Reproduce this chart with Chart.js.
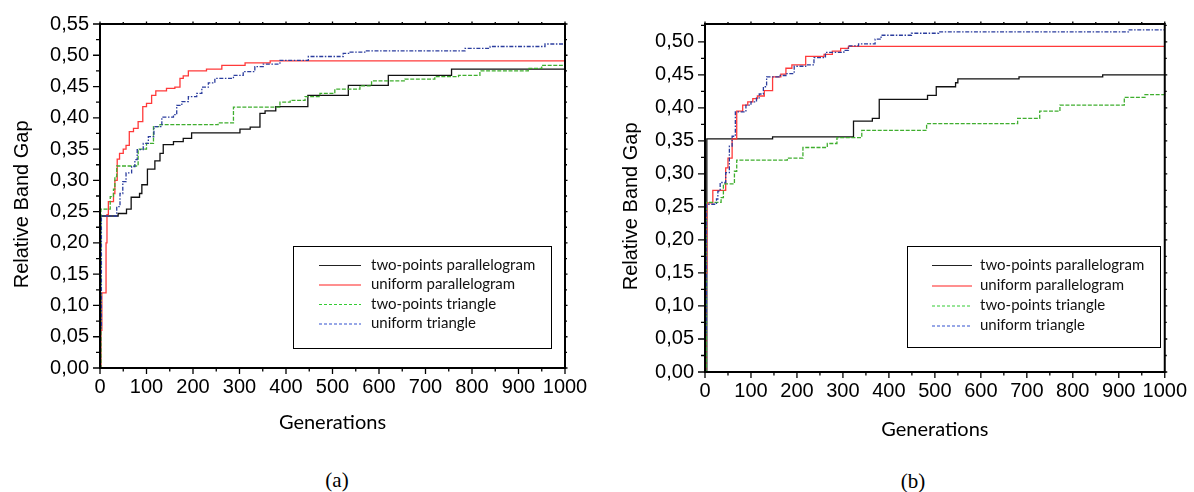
<!DOCTYPE html>
<html><head><meta charset="utf-8">
<script src="https://cdn.jsdelivr.net/npm/chart.js@4.4.1/dist/chart.umd.min.js"></script>
<style>
html,body{margin:0;padding:0;background:#fff;width:1194px;height:492px;overflow:hidden;position:relative}
canvas{position:absolute;top:0}
#ca{left:0}
#cb{left:600px}
.cap{position:absolute;font-family:"Liberation Serif","Times New Roman",serif;font-size:21px;color:#000;transform:translate(-50%,-50%);white-space:nowrap}
</style></head><body>
<canvas id="ca" width="597" height="440"></canvas>
<canvas id="cb" width="594" height="444"></canvas>
<div class="cap" style="left:337px;top:480px">(a)</div>
<div class="cap" style="left:913px;top:481px">(b)</div>
<script>
// ---------- labels ----------
const seriesNames = ['two-points parallelogram', 'uniform parallelogram', 'two-points triangle', 'uniform triangle'];
const xTitle = 'Generations';
const yTitle = 'Relative Band Gap';
const xTickValues = [0, 100, 200, 300, 400, 500, 600, 700, 800, 900, 1000];
const yTickValuesA = [0, 0.05, 0.10, 0.15, 0.20, 0.25, 0.30, 0.35, 0.40, 0.45, 0.50, 0.55];
const yTickValuesB = [0, 0.05, 0.10, 0.15, 0.20, 0.25, 0.30, 0.35, 0.40, 0.45, 0.50];

// ---------- chart (a) ----------
const genA_tpPar = [0, 1, 39, 57, 67, 85, 90, 102, 118, 129, 136, 158, 179, 197, 301, 323, 344, 355, 378, 447, 534, 620, 756, 1000];
const valA_tpPar = [0, 0.243, 0.247, 0.254, 0.273, 0.279, 0.293, 0.318, 0.331, 0.343, 0.357, 0.362, 0.367, 0.376, 0.382, 0.385, 0.407, 0.411, 0.418, 0.436, 0.452, 0.468, 0.478, 0.478];

const genA_uPar = [0, 2, 4, 13, 15, 18, 29, 32, 37, 42, 50, 56, 63, 72, 82, 92, 100, 111, 120, 143, 161, 172, 179, 190, 229, 262, 312, 366, 1000];
const valA_uPar = [0, 0.06, 0.12, 0.20, 0.245, 0.266, 0.279, 0.300, 0.334, 0.343, 0.350, 0.356, 0.378, 0.383, 0.394, 0.418, 0.423, 0.436, 0.443, 0.447, 0.449, 0.463, 0.467, 0.475, 0.478, 0.484, 0.488, 0.491, 0.491];

const genA_tpTri = [0, 2, 22, 29, 32, 36, 82, 100, 115, 129, 254, 287, 387, 409, 441, 473, 505, 559, 584, 656, 720, 771, 817, 921, 950, 1000];
const valA_tpTri = [0, 0.254, 0.274, 0.286, 0.306, 0.323, 0.350, 0.359, 0.386, 0.389, 0.392, 0.417, 0.425, 0.428, 0.434, 0.439, 0.446, 0.451, 0.459, 0.462, 0.466, 0.468, 0.475, 0.479, 0.484, 0.484];

const genA_uTri = [0, 1, 3, 36, 43, 49, 56, 68, 75, 80, 93, 104, 116, 133, 158, 165, 176, 190, 208, 219, 233, 247, 287, 308, 333, 351, 387, 448, 523, 538, 573, 785, 839, 957, 1000];
const valA_uTri = [0, 0.064, 0.243, 0.258, 0.279, 0.298, 0.312, 0.322, 0.333, 0.349, 0.359, 0.370, 0.386, 0.401, 0.405, 0.420, 0.426, 0.434, 0.439, 0.449, 0.456, 0.463, 0.468, 0.474, 0.482, 0.486, 0.492, 0.498, 0.503, 0.505, 0.507, 0.511, 0.514, 0.518, 0.518];

// ---------- chart (b) ----------
const genB_tpPar = [0, 4, 147, 323, 364, 379, 484, 503, 545, 550, 683, 865, 1000];
const valB_tpPar = [0, 0.353, 0.356, 0.380, 0.384, 0.413, 0.419, 0.432, 0.438, 0.444, 0.447, 0.450, 0.450];

const genB_uPar = [0, 2, 4, 17, 45, 50, 59, 69, 82, 93, 104, 114, 129, 147, 165, 176, 189, 219, 259, 277, 295, 312, 1000];
const valB_uPar = [0, 0.15, 0.256, 0.275, 0.309, 0.324, 0.353, 0.395, 0.404, 0.409, 0.414, 0.418, 0.426, 0.447, 0.451, 0.460, 0.465, 0.478, 0.481, 0.486, 0.490, 0.493, 0.493];

const genB_tpTri = [0, 3, 35, 40, 64, 69, 179, 213, 266, 287, 341, 482, 680, 728, 772, 912, 957, 1000];
const valB_tpTri = [0, 0.257, 0.264, 0.285, 0.304, 0.321, 0.324, 0.340, 0.346, 0.355, 0.366, 0.376, 0.384, 0.395, 0.404, 0.416, 0.420, 0.421];

const genB_uTri = [0, 1, 3, 25, 28, 33, 45, 53, 59, 66, 89, 100, 112, 118, 127, 134, 161, 176, 194, 219, 237, 262, 302, 312, 334, 370, 383, 449, 508, 921, 1000];
const valB_uTri = [0, 0.06, 0.254, 0.262, 0.274, 0.287, 0.302, 0.342, 0.357, 0.394, 0.404, 0.409, 0.415, 0.421, 0.432, 0.447, 0.449, 0.452, 0.463, 0.465, 0.476, 0.484, 0.487, 0.494, 0.497, 0.504, 0.510, 0.513, 0.515, 0.518, 0.518];

// ---------- styles ----------
const seriesStyles = [
  {color: '#111111', dash: [], legendColor: '#222222', legendDash: []},
  {color: '#ff3a3a', dash: [], legendColor: '#ff2020', legendDash: []},
  {color: '#3fae2e', dash: [4, 1.6], legendColor: '#33cc33', legendDash: [3, 2]},
  {color: '#2b3d9e', dash: [4, 1.6, 1.5, 1.6], legendColor: '#3050d0', legendDash: [3, 2]}
];

function pts(g, v) { return g.map((x, i) => ({x: x, y: v[i]})); }

function makeDatasets(list) {
  return list.map((s, i) => ({
    label: seriesNames[i],
    data: pts(s[0], s[1]),
    borderColor: seriesStyles[i].color,
    borderDash: seriesStyles[i].dash,
    borderWidth: 1.3,
    pointRadius: 0,
    stepped: 'before',
    fill: false,
    tension: 0,
    order: 4 - i
  }));
}

const framePlugin = {
  id: 'frame',
  afterDraw(chart, args, o) {
    const {ctx, chartArea: ca, scales: {x, y}} = chart;
    ctx.save();
    ctx.strokeStyle = '#000';
    ctx.lineWidth = 1.3;
    const xs = o.xMajor, ys = o.yMajor;
    const xMinor = [], yMinor = [];
    for (let i = 0; i < xs.length - 1; i++) xMinor.push((xs[i] + xs[i + 1]) / 2);
    for (let i = 0; i < ys.length - 1; i++) yMinor.push((ys[i] + ys[i + 1]) / 2);
    if (o.yExtraMinor) yMinor.push(o.yExtraMinor);
    ctx.beginPath();
    xs.forEach(v => { const p = x.getPixelForValue(v); ctx.moveTo(p, ca.bottom); ctx.lineTo(p, ca.bottom + 6); ctx.moveTo(p, ca.top); ctx.lineTo(p, ca.top - 2.5); });
    xMinor.forEach(v => { const p = x.getPixelForValue(v); ctx.moveTo(p, ca.bottom); ctx.lineTo(p, ca.bottom + 3.5); ctx.moveTo(p, ca.top); ctx.lineTo(p, ca.top - 2); });
    ys.forEach(v => { const p = y.getPixelForValue(v); ctx.moveTo(ca.left, p); ctx.lineTo(ca.left - 7, p); ctx.moveTo(ca.right, p); ctx.lineTo(ca.right + 2.5, p); });
    yMinor.forEach(v => { const p = y.getPixelForValue(v); ctx.moveTo(ca.left, p); ctx.lineTo(ca.left - 4, p); ctx.moveTo(ca.right, p); ctx.lineTo(ca.right + 2, p); });
    ctx.stroke();
    ctx.lineWidth = 2;
    ctx.strokeRect(ca.left, ca.top, ca.right - ca.left, ca.bottom - ca.top);
    ctx.restore();
  }
};

const boxLegendPlugin = {
  id: 'boxLegend',
  afterDraw(chart, args, o) {
    const ctx = chart.ctx;
    ctx.save();
    ctx.fillStyle = '#fff';
    ctx.fillRect(o.x, o.y, o.w, o.h);
    ctx.strokeStyle = '#000';
    ctx.lineWidth = 1;
    ctx.strokeRect(o.x + 0.5, o.y + 0.5, o.w, o.h);
    ctx.font = o.font;
    ctx.textBaseline = 'middle';
    ctx.textAlign = 'left';
    chart.data.datasets.forEach((ds, i) => {
      const ry = o.rows[i];
      ctx.strokeStyle = seriesStyles[i].legendColor;
      ctx.setLineDash(seriesStyles[i].legendDash);
      ctx.lineWidth = 1.2;
      ctx.beginPath();
      ctx.moveTo(o.lineX1, ry + 0.5);
      ctx.lineTo(o.lineX2, ry + 0.5);
      ctx.stroke();
      ctx.setLineDash([]);
      ctx.fillStyle = '#111';
      ctx.fillText(ds.label, o.textX, ry);
    });
    ctx.restore();
  }
};

const tickFont = {family: '"Liberation Sans", Arial, sans-serif', size: 20};

function makeChart(id, datasets, cfg) {
  return new Chart(document.getElementById(id), {
    type: 'line',
    data: {datasets: datasets},
    plugins: [framePlugin, boxLegendPlugin],
    options: {
      responsive: false,
      animation: false,
      devicePixelRatio: 1,
      layout: {padding: cfg.padding},
      plugins: {
        legend: {display: false},
        tooltip: {enabled: false},
        frame: {xMajor: xTickValues, yMajor: cfg.yTicks, yExtraMinor: cfg.yExtraMinor},
        boxLegend: cfg.legend
      },
      scales: {
        x: {
          type: 'linear', min: 0, max: 1000,
          afterBuildTicks: s => { s.ticks = xTickValues.map(v => ({value: v})); },
          afterFit: s => { s.height = cfg.xHeight; },
          grid: {display: false, drawTicks: false},
          border: {display: false},
          ticks: {color: '#000', font: tickFont, padding: cfg.xPad, maxRotation: 0, autoSkip: false, callback: v => String(v)},
          title: {display: true, text: xTitle, color: '#000', font: {family: 'Lato, "Open Sans", sans-serif', size: 20}, padding: {top: 0, bottom: cfg.xTitlePad}}
        },
        y: {
          type: 'linear', min: 0, max: cfg.yMax,
          afterBuildTicks: s => { s.ticks = cfg.yTicks.map(v => ({value: v})); },
          afterFit: s => { s.width = cfg.yWidth; },
          grid: {display: false, drawTicks: false},
          border: {display: false},
          ticks: {color: '#000', font: tickFont, padding: 11, autoSkip: false, callback: v => v.toFixed(2).replace('.', ',')},
          title: {display: true, text: yTitle + '   ', color: '#000', font: {family: '"Liberation Sans", Arial, sans-serif', size: 20}, padding: {top: cfg.yTitlePad, bottom: 0}}
        }
      }
    }
  });
}

makeChart('ca', makeDatasets([[genA_tpPar, valA_tpPar], [genA_uPar, valA_uPar], [genA_tpTri, valA_tpTri], [genA_uTri, valA_uTri]]), {
  padding: {left: 0, right: 32, top: 24, bottom: 0},
  yMax: 0.55, yTicks: yTickValuesA, yWidth: 100, xHeight: 72, xPad: 7, xTitlePad: 5, yTitlePad: 10,
  legend: {x: 293, y: 246, w: 258, h: 102, lineX1: 319, lineX2: 361, textX: 371, rows: [265, 284.5, 304, 323.5], font: '15px Lato, "Open Sans", sans-serif'}
});

makeChart('cb', makeDatasets([[genB_tpPar, valB_tpPar], [genB_uPar, valB_uPar], [genB_tpTri, valB_tpTri], [genB_uTri, valB_uTri]]), {
  padding: {left: 0, right: 26, top: 24, bottom: 0},
  yMax: 0.527, yTicks: yTickValuesB, yExtraMinor: 0.525, yWidth: 105, xHeight: 72, xPad: 7, xTitlePad: 2, yTitlePad: 19,
  legend: {x: 307, y: 246, w: 253, h: 101, lineX1: 332, lineX2: 372, textX: 380, rows: [265, 285.5, 305.5, 325.5], font: '15px Lato, "Open Sans", sans-serif'}
});
</script>
</body></html>
